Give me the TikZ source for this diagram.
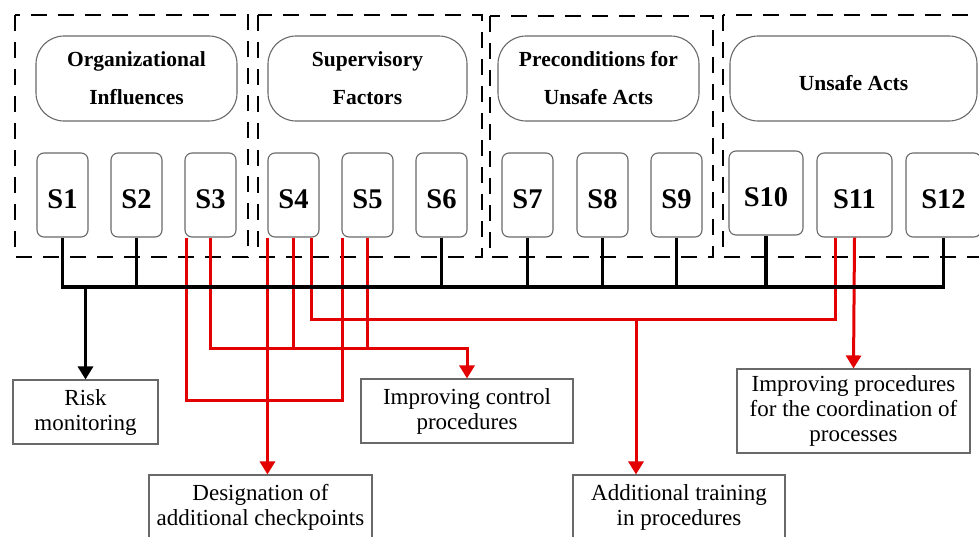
\documentclass[tikz,border=0pt]{standalone}
\usepackage{fontspec}
\setmainfont{Liberation Serif}
\usetikzlibrary{arrows.meta}
\definecolor{linkred}{RGB}{226,0,0}
\definecolor{framegray}{RGB}{105,105,105}

\begin{document}
\begin{tikzpicture}[x=1pt,y=-1pt,
  groupframe/.style={draw=black,line width=2.6pt,dash pattern=on 16pt off 11pt},
  header/.style={draw=framegray,line width=1.1pt,rounded corners=28pt,align=center,
    inner sep=0pt,font=\fontsize{21.5}{38}\selectfont\bfseries},
  sbox/.style={draw=framegray,line width=1.1pt,rounded corners=7pt,minimum width=51pt,
    minimum height=84pt,inner sep=0pt,text height=26pt,text depth=0pt,
    font=\fontsize{28.5}{30}\selectfont\bfseries},
  measure/.style={draw=framegray,line width=1.1pt,align=center,inner sep=0pt,
    font=\fontsize{23}{25}\selectfont},
  bus/.style={line width=3.2pt,black},
  redlink/.style={line width=3pt,linkred},
  tip/.style={-{Triangle[width=15pt,length=13pt]}}
]
\clip (0,0) rectangle (979,536);
\useasboundingbox (0,0) rectangle (979,536);

% HFACS levels (dashed groups)
\draw[groupframe] (15,15) rectangle (248,257);
\draw[groupframe] (258,15) rectangle (482,257);
\draw[groupframe] (490,16) rectangle (713,257);
\draw[groupframe] (723,15) rectangle (995,257);

% level headers
\node[header,minimum width=201pt,minimum height=85pt] (OI) at (136.5,78.5) {Organizational\\Influences};
\node[header,minimum width=199pt,minimum height=85pt] (SF) at (367.5,78.5) {Supervisory\\Factors};
\node[header,minimum width=201pt,minimum height=85pt] (PU) at (598.5,78.5) {Preconditions for\\Unsafe Acts};
\node[header,minimum width=247pt,minimum height=85pt,text height=23pt,text depth=0pt] (UA) at (853.5,78.5) {Unsafe Acts};

% sub-categories
\node[sbox] (S1) at (62.5,195) {S1};
\node[sbox] (S2) at (136.5,195) {S2};
\node[sbox] (S3) at (210.5,195) {S3};
\node[sbox] (S4) at (293.5,195) {S4};
\node[sbox] (S5) at (367.5,195) {S5};
\node[sbox] (S6) at (441.5,195) {S6};
\node[sbox] (S7) at (527.5,195) {S7};
\node[sbox] (S8) at (602.5,195) {S8};
\node[sbox] (S9) at (676.5,195) {S9};
\node[sbox,minimum width=74pt] (S10) at (766,193) {S10};
\node[sbox,minimum width=75pt] (S11) at (854.5,195) {S11};
\node[sbox,minimum width=75pt] (S12) at (943.5,195) {S12};

% measures
\node[measure,minimum width=145pt,minimum height=64pt] (RM) at (85.5,412) {Risk\\monitoring};
\node[measure,minimum width=212pt,minimum height=64pt] (ICP) at (467,411) {Improving control\\procedures};
\node[measure,minimum width=223pt,minimum height=64pt] (DC) at (260.5,507) {Designation of\\additional checkpoints};
\node[measure,minimum width=212pt,minimum height=64pt] (AT) at (679,507) {Additional training\\in procedures};
\node[measure,minimum width=233pt,minimum height=84pt] (CP) at (853.5,411) {Improving procedures\\for the coordination of\\processes};

% routing levels
\coordinate (busy) at (0,287);
\coordinate (yhigh) at (0,319);
\coordinate (ymid) at (0,348);
\coordinate (ylow) at (0,400);
\coordinate (j3) at (636,319);

% red links
\coordinate (s3a) at ([xshift=2pt]S3.south west);
\coordinate (s5a) at ([xshift=1pt]S5.south west);
\coordinate (s4c) at ([xshift=-8pt]S4.south east);
\coordinate (s11a) at ([xshift=19pt]S11.south west);
\draw[redlink] (s3a) -- (s3a |- ylow) -- (s5a |- ylow) -- (s5a);
\draw[redlink,tip] (S4.south west) -- (S4.south west |- DC.north);
\draw[redlink,tip] (S3.south) -- (S3.south |- ymid) -| (ICP.north);
\draw[redlink] (S4.south) -- (S4.south |- ymid);
\draw[redlink] (S5.south) -- (S5.south |- ymid);
\draw[redlink] (s4c) -- (s4c |- yhigh) -- (s11a |- yhigh) -- (s11a);
\draw[redlink,tip] (j3) -- (j3 |- AT.north);
\draw[redlink,tip] (S11.south) -- (CP.north);

% black bus
\draw[bus] (S1.south) -- (S1.south |- busy) -- (S12.south |- busy) -- (S12.south);
\foreach \s in {S2,S6,S7,S8,S9,S10}
  \draw[bus] (\s.south) -- (\s.south |- busy);
\draw[bus,tip] (RM.north |- busy) -- (RM.north);
\end{tikzpicture}
\end{document}
